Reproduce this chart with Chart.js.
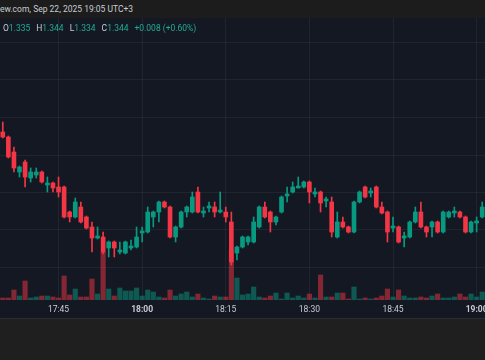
<!DOCTYPE html>
<html>
<head>
<meta charset="utf-8">
<script src="https://cdn.jsdelivr.net/npm/chart.js@4.4.1/dist/chart.umd.min.js"></script>
<style>
  html, body { margin:0; padding:0; background:#1f1f1f; }
  body { width:485px; height:360px; overflow:hidden; position:relative; font-family: Roboto, "Noto Sans", sans-serif; }
  #top { position:absolute; left:0; top:0; width:485px; height:18px; background:#1c1c1c; color:#c9ccd3; font-size:8.5px; line-height:19px; white-space:nowrap; }
  #pane { position:absolute; left:0; top:18px; width:485px; height:300px; background:#141823; }
  #ohlc { position:absolute; left:3px; top:23px; font-size:8.5px; color:#c9ccd3; white-space:nowrap; z-index:2; }
  #ohlc .g { margin-right:6px; }
  #ohlc .v { color:#22ab94; }
  #bottom { position:absolute; left:0; top:318px; width:485px; height:42px; background:#1f1f1f; border-top:1px solid #2c2d30; }
</style>
</head>
<body>
<div id="top">ew.com, Sep 22, 2025 19:05 UTC+3</div>
<div id="pane"><canvas id="myChart" width="485" height="300"></canvas></div>
<div id="ohlc"><span class="g">O<span class="v">1.335</span></span><span class="g">H<span class="v">1.344</span></span><span class="g">L<span class="v">1.334</span></span><span class="g">C<span class="v">1.344</span></span><span class="v">+0.008 (+0.60%)</span></div>
<div id="bottom"></div>
<script>
// 1-minute candles, 17:35 .. 19:01
var times = [
  "17:35","17:36","17:37","17:38","17:39","17:40","17:41","17:42","17:43","17:44",
  "17:45","17:46","17:47","17:48","17:49","17:50","17:51","17:52","17:53","17:54",
  "17:55","17:56","17:57","17:58","17:59","18:00","18:01","18:02","18:03","18:04",
  "18:05","18:06","18:07","18:08","18:09","18:10","18:11","18:12","18:13","18:14",
  "18:15","18:16","18:17","18:18","18:19","18:20","18:21","18:22","18:23","18:24",
  "18:25","18:26","18:27","18:28","18:29","18:30","18:31","18:32","18:33","18:34",
  "18:35","18:36","18:37","18:38","18:39","18:40","18:41","18:42","18:43","18:44",
  "18:45","18:46","18:47","18:48","18:49","18:50","18:51","18:52","18:53","18:54",
  "18:55","18:56","18:57","18:58","18:59","19:00","19:01"
];

var opens = [
  1.3536,1.3526,1.3496,1.3456,1.3476,1.3444,1.3450,1.3456,1.3430,1.3434,
  1.3426,1.3426,1.3376,1.3366,1.3386,1.3366,1.3346,1.3324,1.3326,1.3304,
  1.3316,1.3296,1.3294,1.3304,1.3306,1.3334,1.3336,1.3366,1.3376,1.3396,
  1.3386,1.3326,1.3346,1.3376,1.3376,1.3416,1.3374,1.3384,1.3386,1.3376,
  1.3376,1.3356,1.3294,1.3306,1.3316,1.3316,1.3346,1.3386,1.3376,1.3356,
  1.3376,1.3408,1.3416,1.3424,1.3426,1.3436,1.3412,1.3416,1.3398,1.3396,
  1.3326,1.3356,1.3346,1.3336,1.3396,1.3426,1.3414,1.3426,1.3386,1.3376,
  1.3344,1.3346,1.3324,1.3326,1.3356,1.3376,1.3346,1.3346,1.3356,1.3336,
  1.3366,1.3374,1.3376,1.3366,1.3336,1.3354,1.3366
];
var highs = [
  1.3556,1.3528,1.3506,1.3468,1.3480,1.3464,1.3464,1.3458,1.3446,1.3436,
  1.3446,1.3428,1.3378,1.3404,1.3396,1.3368,1.3356,1.3346,1.3336,1.3318,
  1.3318,1.3316,1.3318,1.3320,1.3346,1.3346,1.3386,1.3378,1.3398,1.3398,
  1.3388,1.3348,1.3378,1.3388,1.3416,1.3426,1.3386,1.3396,1.3396,1.3416,
  1.3386,1.3376,1.3308,1.3328,1.3328,1.3366,1.3388,1.3396,1.3378,1.3368,
  1.3408,1.3426,1.3436,1.3446,1.3438,1.3438,1.3424,1.3418,1.3406,1.3406,
  1.3376,1.3366,1.3348,1.3398,1.3418,1.3428,1.3424,1.3428,1.3396,1.3378,
  1.3366,1.3348,1.3336,1.3358,1.3386,1.3396,1.3348,1.3358,1.3358,1.3378,
  1.3378,1.3386,1.3378,1.3368,1.3358,1.3366,1.3396
];
var lows = [
  1.3524,1.3484,1.3456,1.3446,1.3426,1.3436,1.3444,1.3434,1.3416,1.3416,
  1.3406,1.3364,1.3356,1.3364,1.3354,1.3342,1.3296,1.3322,1.3292,1.3286,
  1.3286,1.3292,1.3292,1.3300,1.3304,1.3316,1.3334,1.3346,1.3356,1.3384,
  1.3324,1.3316,1.3344,1.3366,1.3374,1.3374,1.3366,1.3376,1.3366,1.3374,
  1.3356,1.3270,1.3280,1.3304,1.3310,1.3314,1.3344,1.3364,1.3336,1.3350,
  1.3374,1.3396,1.3414,1.3424,1.3424,1.3394,1.3406,1.3376,1.3386,1.3326,
  1.3324,1.3344,1.3334,1.3334,1.3394,1.3404,1.3406,1.3384,1.3372,1.3316,
  1.3336,1.3314,1.3306,1.3324,1.3354,1.3344,1.3326,1.3326,1.3334,1.3334,
  1.3364,1.3366,1.3364,1.3334,1.3334,1.3336,1.3364
];
var closes = [
  1.3526,1.3486,1.3464,1.3466,1.3446,1.3456,1.3456,1.3436,1.3434,1.3424,
  1.3416,1.3366,1.3366,1.3396,1.3356,1.3344,1.3324,1.3328,1.3296,1.3316,
  1.3304,1.3300,1.3316,1.3308,1.3326,1.3338,1.3376,1.3376,1.3396,1.3386,
  1.3326,1.3346,1.3376,1.3386,1.3406,1.3376,1.3378,1.3388,1.3376,1.3380,
  1.3366,1.3276,1.3306,1.3326,1.3326,1.3356,1.3386,1.3366,1.3356,1.3366,
  1.3406,1.3412,1.3426,1.3428,1.3436,1.3416,1.3416,1.3394,1.3402,1.3336,
  1.3356,1.3346,1.3336,1.3396,1.3416,1.3406,1.3418,1.3386,1.3374,1.3336,
  1.3348,1.3316,1.3328,1.3356,1.3376,1.3346,1.3336,1.3356,1.3336,1.3376,
  1.3376,1.3378,1.3366,1.3336,1.3356,1.3358,1.3386
];
// volume, thousands
var volumes = [
  2,2,10,4,19,2,3,4,4,3,
  2,24,5,11,3,3,21,6,48,11,
  4,12,9,9,12,4,10,8,3,2,
  10,4,6,8,3,6,2,1,4,3,
  3,50,22,5,6,13,3,2,4,7,
  1,7,2,4,2,6,2,25,3,3,
  7,7,1,13,1,2,1,2,4,11,
  3,10,4,2,2,3,2,4,6,2,
  2,3,6,3,6,3,8
];
// price levels of the horizontal grid lines
var gridPrices = [1.3265, 1.334, 1.3415, 1.349, 1.3565, 1.364, 1.3715];

var upColor = '#089981';
var downColor = '#f23645';
var upVol = 'rgba(8,153,129,0.5)';
var downVol = 'rgba(242,54,69,0.5)';

var isUp = opens.map(function (o, i) { return closes[i] >= o; });
var candleColors = isUp.map(function (u) { return u ? upColor : downColor; });
var volColors = isUp.map(function (u) { return u ? upVol : downVol; });

var gridColor = 'rgba(255,255,255,0.055)';

var ctx = document.getElementById("myChart");
var myChart = new Chart(ctx, {
  type: 'bar',
  data: {
    labels: times,
    datasets: [{
      label: 'body',
      data: opens.map(function (o, i) { return [o, closes[i]]; }),
      backgroundColor: candleColors,
      barThickness: 4,
      grouped: false,
      order: 0,
      yAxisID: 'y'
    }, {
      label: 'wick',
      data: lows.map(function (l, i) { return [l, highs[i]]; }),
      backgroundColor: candleColors,
      barThickness: 1,
      grouped: false,
      order: 1,
      yAxisID: 'y'
    }, {
      label: 'volume',
      data: volumes,
      backgroundColor: volColors,
      barThickness: 4.5,
      grouped: false,
      order: 2,
      yAxisID: 'yv'
    }]
  },
  options: {
    responsive: false,
    animation: false,
    devicePixelRatio: 1,
    layout: { padding: 0 },
    plugins: {
      legend: { display: false },
      tooltip: { enabled: false }
    },
    scales: {
      x: {
        offset: true,
        border: { display: false },
        grid: { offset: false, color: gridColor, drawTicks: false },
        ticks: {
          autoSkip: false,
          maxRotation: 0,
          padding: 5,
          color: '#c9ccd3',
          font: function (c) {
            var lab = c.tick && c.tick.label;
            var bold = typeof lab === 'string' && lab.slice(3) === '00';
            return { family: 'Roboto', size: 8.5, weight: bold ? 'bold' : 'normal' };
          },
          callback: function (v, i) {
            var t = times[i];
            var m = parseInt(t.slice(3), 10);
            return m % 15 === 0 ? t : null;
          }
        },
        afterFit: function (s) {
          s.height = 18;
          // let the last label run off the edge, like the screenshot
          s.paddingLeft = 0;
          s.paddingRight = 0;
        }
      },
      y: {
        position: 'left',
        min: 1.32,
        max: 1.3764,
        border: { display: false },
        grid: { color: gridColor, drawTicks: false },
        ticks: { display: false },
        afterBuildTicks: function (s) {
          s.ticks = gridPrices.map(function (p) { return { value: p }; });
        },
        afterFit: function (s) { s.width = 0; }
      },
      yv: {
        display: false,
        min: 0,
        max: 282
      }
    }
  }
});
</script>
</body>
</html>
